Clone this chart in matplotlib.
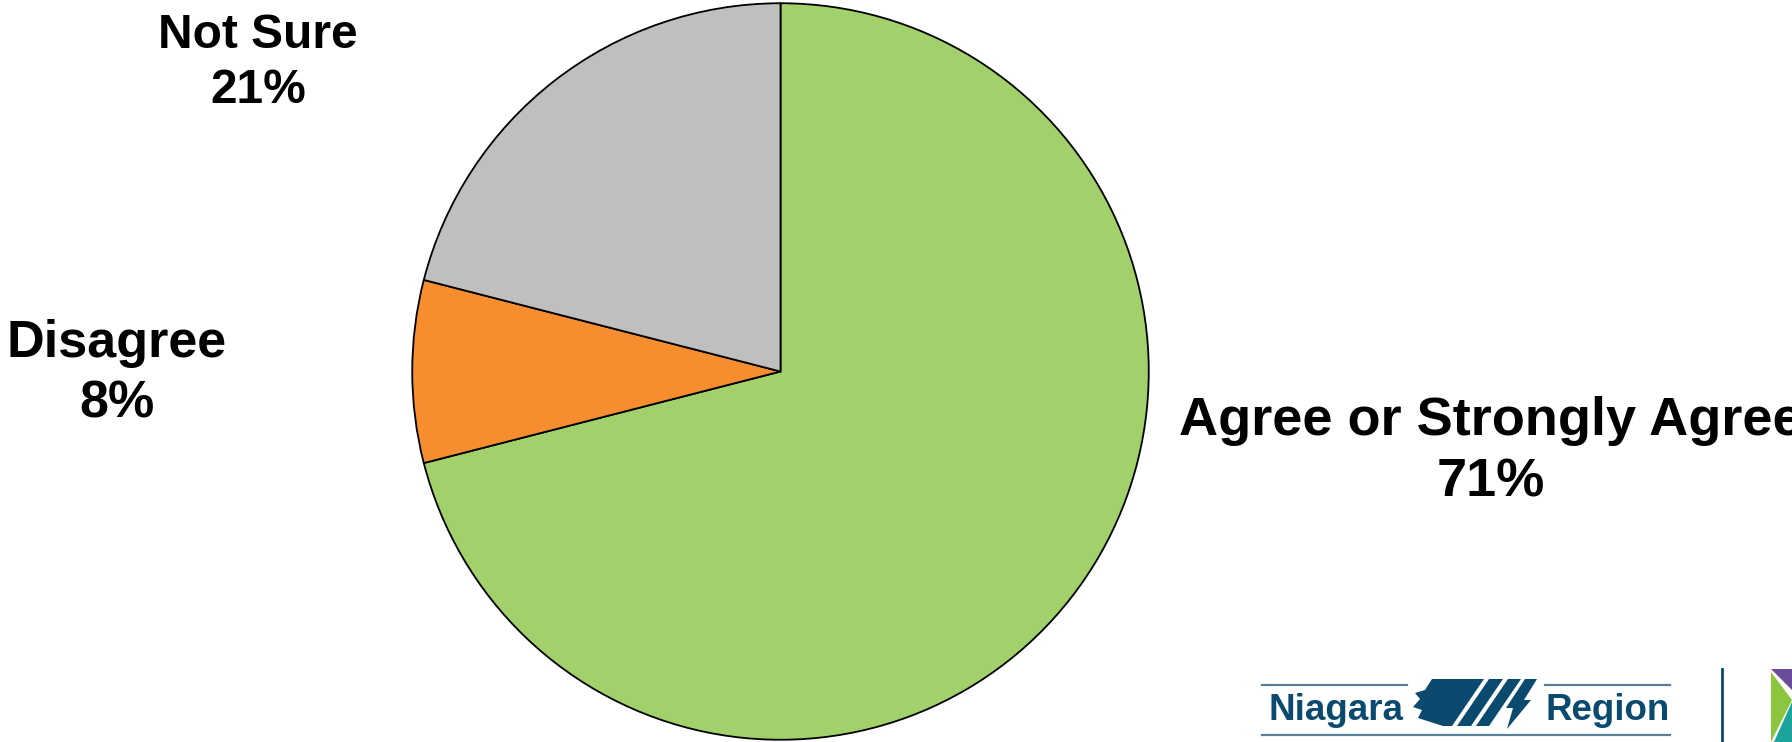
import matplotlib
matplotlib.use("Agg")
import matplotlib.pyplot as plt
from matplotlib.patches import Polygon

categories = ["Agree or Strongly Agree", "Disagree", "Not Sure"]
values = [71, 8, 21]
colors = ["#A2D06A", "#F68D2E", "#BFBFBF"]

W, H = 1792, 742
fig = plt.figure(figsize=(W / 100, H / 100), dpi=100)
fig.patch.set_facecolor("white")

# pie axes (square in pixels)
cx, cy, r = 780.5, 371.5, 369.0
ax = fig.add_axes([(cx - r) / W, (H - cy - r) / H, 2 * r / W, 2 * r / H])
ax.pie(values, colors=colors, startangle=90, counterclock=False,
       wedgeprops=dict(edgecolor="black", linewidth=1.3))
ax.set_xlim(-1.002, 1.002)
ax.set_ylim(-1.002, 1.002)
ax.set_aspect("equal")
ax.axis("off")

font = "Liberation Sans"

def label(x, y, name, val, size):
    fig.text(x / W, 1 - y / H, f"{name}\n{val}%", ha="center", va="center",
             multialignment="center", fontsize=size, fontweight="bold",
             family=font, linespacing=1.3, color="black")

label(1491, 452, categories[0], values[0], 39)
label(117, 374, categories[1], values[1], 37.5)
label(258, 63, categories[2], values[2], 34.5)

# Niagara Region logo (decorative)
blue = "#0B4A6F"
fig.text(1268 / W, 1 - 720 / H, "Niagara", ha="left", va="baseline",
         fontsize=26.5, fontweight="bold", family=font, color=blue)
fig.text(1545 / W, 1 - 720 / H, "Region", ha="left", va="baseline",
         fontsize=26.5, fontweight="bold", family=font, color=blue)
line_c = "#5A7F98"
for x0, x1, yy in [(1262, 1407, 685), (1545, 1670, 685), (1262, 1670, 735)]:
    fig.add_artist(plt.Line2D([x0 / W, x1 / W], [1 - yy / H, 1 - yy / H],
                              color=line_c, lw=1.6))

def poly(pts, color):
    fig.add_artist(Polygon([(x / W, 1 - y / H) for x, y in pts], closed=True,
                           transform=fig.transFigure, facecolor=color,
                           edgecolor="none"))

# emblem
poly([(1432, 679), (1484, 679), (1452, 726), (1443, 726), (1418, 718),
      (1422, 710), (1413, 707), (1420, 699), (1415, 693), (1425, 690)], blue)
poly([(1489, 679), (1503, 679), (1471, 726), (1457, 726)], blue)
poly([(1508, 679), (1521, 679), (1489, 726), (1476, 726)], blue)
poly([(1525, 679), (1537, 679), (1524, 700), (1531, 700), (1507, 729),
      (1513, 708), (1506, 708)], blue)
# vertical divider
fig.add_artist(plt.Line2D([1722 / W, 1722 / W], [1 - 669 / H, 0],
                          color=blue, lw=2))
# partial coloured mark at right edge
poly([(1771, 669), (1792, 669), (1792, 690)], "#6B4C9A")
poly([(1771, 672), (1792, 700), (1771, 742)], "#8CC63F")
poly([(1792, 702), (1792, 742), (1774, 742)], "#1BA39C")

fig.savefig("out.png", dpi=100, facecolor="white")
